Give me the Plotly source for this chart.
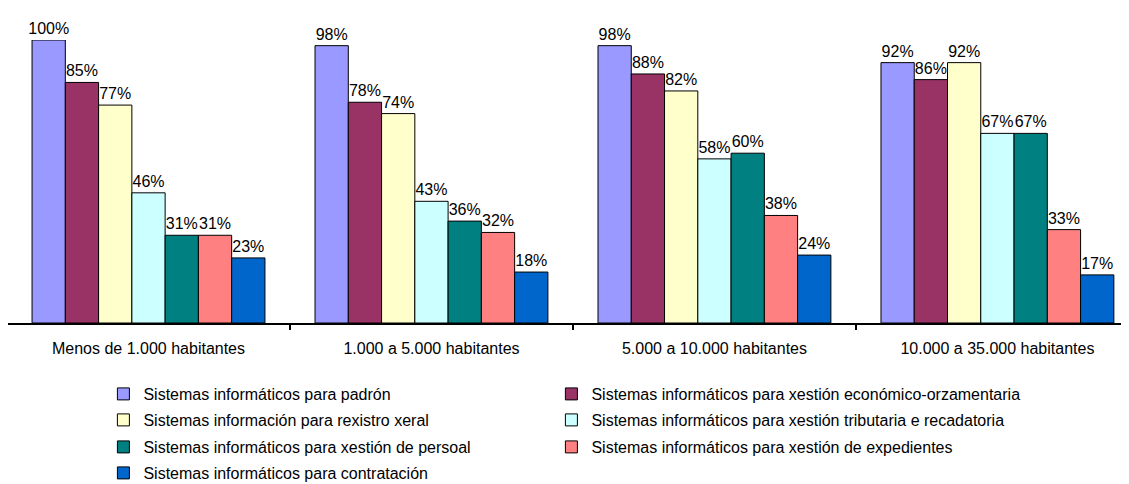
import plotly.graph_objects as go

categories = ["Menos de 1.000 habitantes", "1.000 a 5.000 habitantes",
              "5.000 a 10.000 habitantes", "10.000 a 35.000 habitantes"]

series_names = [
    "Sistemas informáticos para padrón",
    "Sistemas informáticos para xestión económico-orzamentaria",
    "Sistemas información para rexistro xeral",
    "Sistemas informáticos para xestión tributaria e recadatoria",
    "Sistemas informáticos para xestión de persoal",
    "Sistemas informáticos para xestión de expedientes",
    "Sistemas informáticos para contratación",
]

padron = [100, 98, 98, 92]
economico = [85, 78, 88, 86]
rexistro = [77, 74, 82, 92]
tributaria = [46, 43, 58, 67]
persoal = [31, 36, 60, 67]
expedientes = [31, 32, 38, 33]
contratacion = [23, 18, 24, 17]

series_values = [padron, economico, rexistro, tributaria, persoal, expedientes, contratacion]
colors = ["#9999FF", "#993366", "#FFFFCC", "#CCFFFF", "#008080", "#FF8080", "#0066CC"]

FONT = "Arial, Liberation Sans, sans-serif"
# page body has an 8px margin, so the figure is sized to fill the rest of the window
W, H = 1121, 476

fig = go.Figure()
legend_ids = ["legend", "legend2", "legend3", "legend4", "legend5", "legend6", "legend7"]
for name, vals, col, lg in zip(series_names, series_values, colors, legend_ids):
    fig.add_trace(go.Bar(
        x=categories, y=vals, name=name,
        marker=dict(color=col, line=dict(color="black", width=1)),
        text=[f"{v}%" for v in vals], textposition="outside",
        textfont=dict(family=FONT, size=16, color="black"),
        constraintext="none", cliponaxis=False,
        legend=lg, showlegend=True,
    ))

row_y = [386, 412, 439, 465]
col_x = [95.4, 543.4]
legend_common = dict(orientation="h", xref="container", yref="container",
                     xanchor="left", yanchor="middle",
                     font=dict(family=FONT, size=16, color="black"),
                     bgcolor="rgba(0,0,0,0)", itemwidth=30)

legends = {}
for i, lg in enumerate(legend_ids):
    r, c = divmod(i, 2)
    legends[lg] = dict(**legend_common, x=col_x[c] / W, y=1 - row_y[r] / H)

fig.update_layout(
    width=W, height=H,
    showlegend=True,
    margin=dict(l=0, r=0, t=32, b=161, autoexpand=False),
    plot_bgcolor="white", paper_bgcolor="white",
    barmode="group", bargap=0.177, bargroupgap=0,
    font=dict(family=FONT, color="black"),
    xaxis=dict(type="category", range=[-0.4965, 3.465], showline=True, linecolor="black",
               linewidth=2, ticks="outside", tickson="boundaries", ticklen=5,
               tickcolor="black", tickwidth=2, showgrid=False, zeroline=False,
               ticklabelstandoff=10,
               tickfont=dict(family=FONT, size=16, color="black")),
    yaxis=dict(range=[0, 100], visible=False, showgrid=False, zeroline=False),
    **legends,
)

fig.write_html("out.html")
